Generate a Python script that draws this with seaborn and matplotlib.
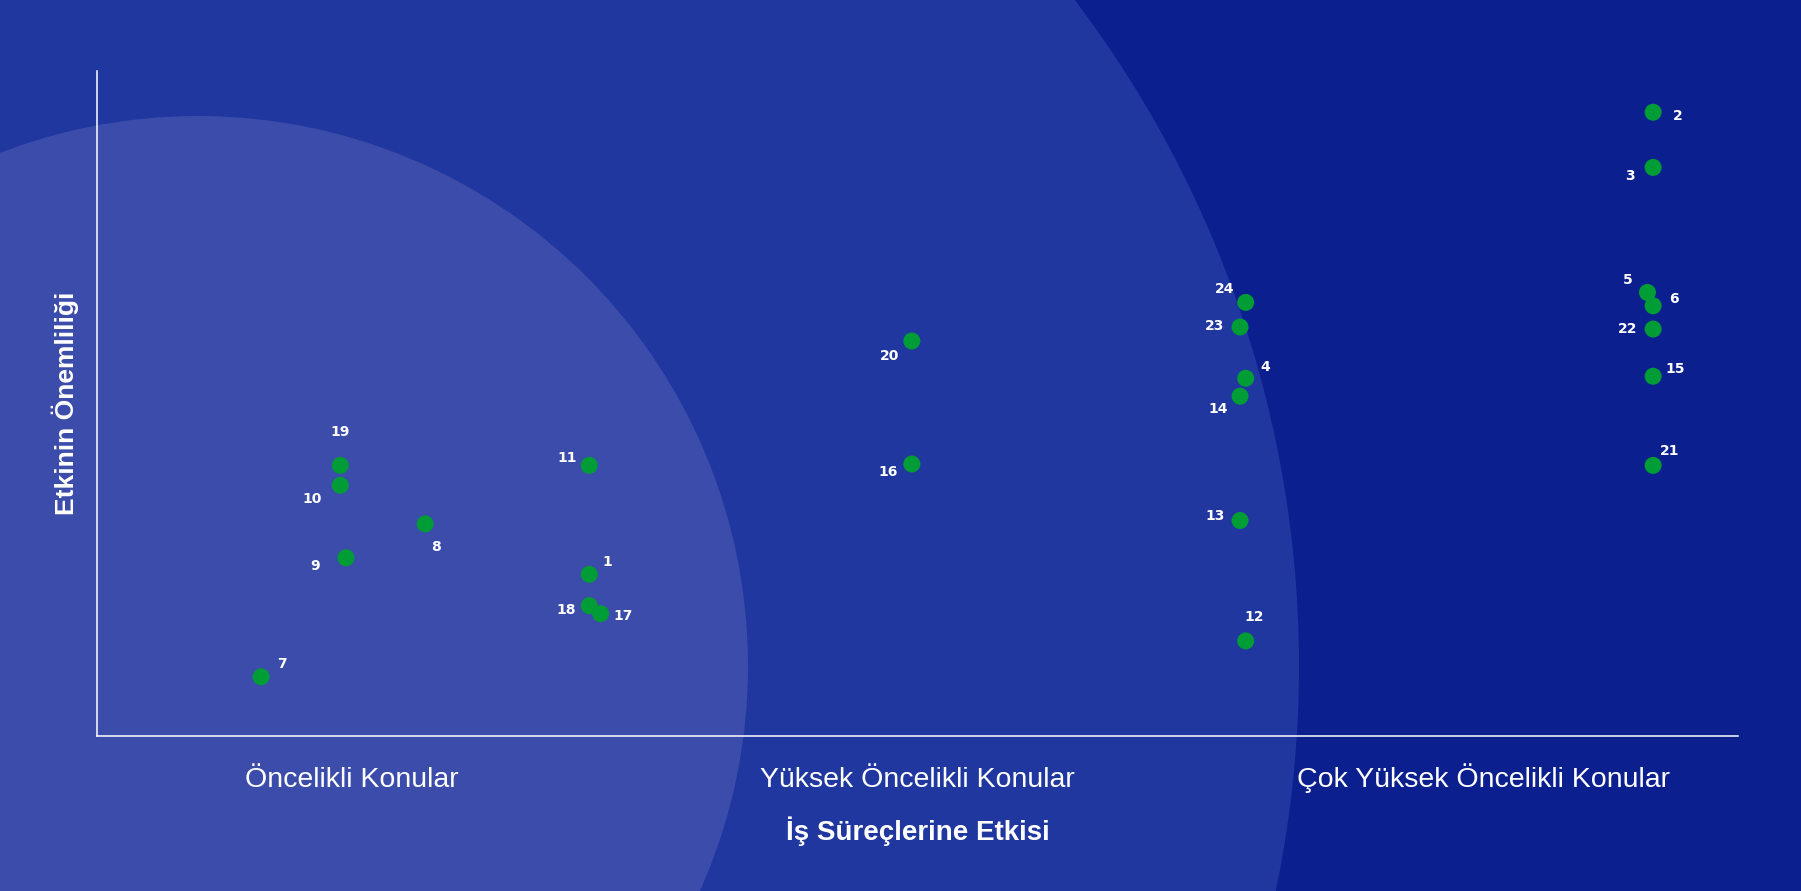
import pandas as pd
import numpy as np

import matplotlib
matplotlib.use("Agg")
import matplotlib.pyplot as plt
from matplotlib.patches import Circle
import seaborn as sns

# konu numaralari ve konumlari
konu_no = [1, 2, 3, 4, 5, 6, 7, 8, 9, 10, 11, 12,
           13, 14, 15, 16, 17, 18, 19, 20, 21, 22, 23, 24]
is_etkisi = [1.42, 3.30, 3.30, 2.58, 3.29, 3.30, 0.84, 1.13, 0.99, 0.98, 1.42, 2.58,
             2.57, 2.57, 3.30, 1.99, 1.44, 1.42, 0.98, 1.99, 3.30, 3.30, 2.57, 2.58]
onem = [2.43, 9.38, 8.55, 5.38, 6.67, 6.47, 0.89, 3.19, 2.68, 3.77, 4.07, 1.43,
        3.24, 5.11, 5.41, 4.09, 1.84, 1.96, 4.07, 5.94, 4.07, 6.12, 6.15, 6.52]

kategori_pos = [1, 2, 3]
kategoriler = ["Öncelikli Konular", "Yüksek Öncelikli Konular", "Çok Yüksek Öncelikli Konular"]

# etiket kaydirmalari (punto)
etiket_ofset = {
    1: (13, 9), 2: (18, -3), 3: (-17, -6), 4: (14, 8), 5: (-14, 9), 6: (15, 5),
    7: (15, 9), 8: (8, -17), 9: (-22, -6), 10: (-20, -10), 11: (-16, 5), 12: (6, 17),
    13: (-18, 3), 14: (-16, -9), 15: (16, 5), 16: (-17, -6), 17: (16, -2), 18: (-17, -3),
    19: (0, 24), 20: (-16, -11), 21: (12, 10), 22: (-18, 0), 23: (-18, 1), 24: (-15, 10),
}

df = pd.DataFrame({"no": konu_no, "etki": is_etkisi, "onem": onem})

sns.set_style("white")
plt.rcParams["font.family"] = ["Liberation Sans", "DejaVu Sans"]

W, H = 1801, 891
fig = plt.figure(figsize=(W / 100, H / 100), dpi=100)
fig.patch.set_facecolor("#0b1f8f")

# arka plan daireleri
bg = fig.add_axes([0, 0, 1, 1], zorder=0)
bg.set_xlim(0, W)
bg.set_ylim(H, 0)
bg.axis("off")
bg.add_patch(Circle((198, 666), 1101, color="#2137a0", lw=0))
bg.add_patch(Circle((198, 666), 550, color="#3c4caa", lw=0))

ax = fig.add_axes([97 / W, (H - 736) / H, 1641 / W, 665 / H], zorder=1)
ax.set_facecolor("none")

sns.scatterplot(data=df, x="etki", y="onem", color="#009c36", s=150,
                edgecolor="none", ax=ax, zorder=3)

for _, r in df.iterrows():
    dx, dy = etiket_ofset[int(r["no"])]
    ax.annotate(str(int(r["no"])), (r["etki"], r["onem"]), xytext=(dx, dy),
                textcoords="offset points", ha="center", va="center",
                color="white", fontsize=10, fontweight="bold", family="DejaVu Sans")

ax.set_xlim(0.55, 3.45)
ax.set_ylim(0, 10)
ax.set_xticks(kategori_pos)
ax.set_xticklabels(kategoriler, color="white", fontsize=20.5)
for lbl in ax.get_xticklabels():
    lbl.set_va("baseline")
ax.set_yticks([])
ax.tick_params(axis="x", length=0, pad=37)

for s in ["top", "right"]:
    ax.spines[s].set_visible(False)
for s in ["left", "bottom"]:
    ax.spines[s].set_color("white")
    ax.spines[s].set_linewidth(1.1)

ax.set_xlabel("İş Süreçlerine Etkisi", color="white", fontsize=20, fontweight="bold")
ax.xaxis.set_label_coords(0.5, (736 - 840) / 665)
ax.xaxis.label.set_va("baseline")
ax.set_ylabel("Etkinin Önemliliği", color="white", fontsize=19, fontweight="bold")
ax.yaxis.set_label_coords((65 - 97) / 1641, 0.5)
ax.yaxis.label.set_va("center")

fig.savefig("out.png", dpi=100, facecolor=fig.get_facecolor())
